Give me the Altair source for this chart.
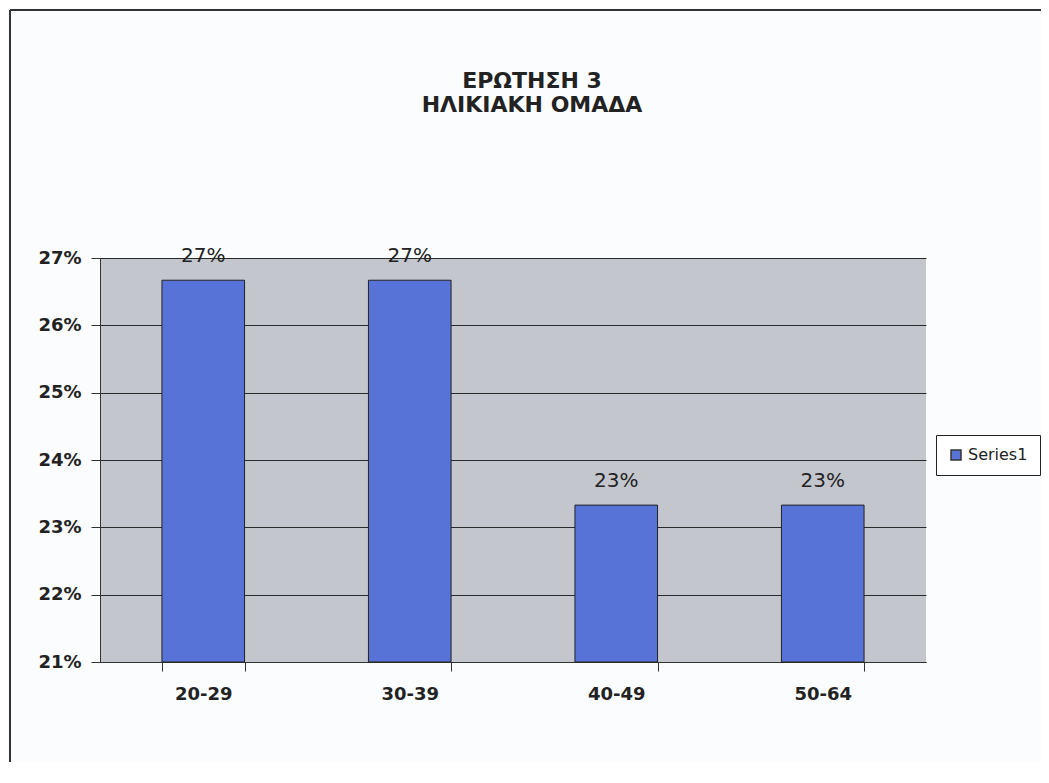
import altair as alt
import pandas as pd

categories = ["20-29", "30-39", "40-49", "50-64"]
values = [0.2667, 0.2667, 0.2333, 0.2333]
series = ["Series1"] * 4
y_ticks = [0.21, 0.22, 0.23, 0.24, 0.25, 0.26, 0.27]
y_min = 0.21

df = pd.DataFrame({"age": categories, "value": values, "series": series})

FONT = "DejaVu Sans"
BAR = "#5773D8"
PLOT_BG = "#C4C6CE"

x_enc = alt.X(
    "age:N",
    sort=categories,
    scale=alt.Scale(paddingInner=0.6, paddingOuter=0.3),
    axis=alt.Axis(
        title=None, labelAngle=0, labelFont=FONT, labelFontSize=18, labelFontWeight="bold",
        labelColor="#222222", labelPadding=14, tickBand="extent", tickSize=9,
        tickColor="#333333", domainColor="#333333", grid=False,
    ),
)
y_enc = alt.Y(
    "value:Q",
    scale=alt.Scale(domain=[0.21, 0.27], zero=False, nice=False),
    axis=alt.Axis(
        title=None, format=".0%", values=y_ticks, labelFont=FONT, labelFontSize=18,
        labelFontWeight="bold", labelColor="#222222", labelPadding=10, tickSize=9,
        tickColor="#333333", domainColor="#333333", grid=True, gridColor="#2a2a2a",
        gridWidth=1, gridOpacity=1,
    ),
)

bars = alt.Chart(df).mark_bar(stroke="#222222", strokeWidth=1).encode(
    x=x_enc,
    y=y_enc,
    y2=alt.datum(y_min),
    color=alt.Color(
        "series:N",
        scale=alt.Scale(range=[BAR]),
        legend=alt.Legend(
            title=None, orient="none", legendX=836, legendY=177, strokeColor="#222222",
            fillColor="#ffffff", padding=12, symbolType="square", symbolSize=100,
            symbolStrokeColor="#333333", symbolFillColor="#4a5a8a", labelFont=FONT,
            labelFontSize=16, labelColor="#222222", symbolOpacity=1, labelOffset=4,
        ),
    ),
)

labels = alt.Chart(df).mark_text(
    font=FONT, fontSize=20, color="#222222", baseline="middle", dy=-24
).encode(
    x=alt.X("age:N", sort=categories),
    y=alt.Y("value:Q"),
    text=alt.Text("value:Q", format=".0%"),
)

frame_left = alt.Chart(df).mark_rule(color="#333333", strokeWidth=2).encode(
    x=alt.value(-90), y=alt.value(-248), y2=alt.value(520)
)
frame_top = alt.Chart(df).mark_rule(color="#333333", strokeWidth=2).encode(
    x=alt.value(-90), x2=alt.value(949), y=alt.value(-248)
)

chart = alt.layer(bars, labels, frame_left, frame_top).properties(
    width=826,
    height=404,
    autosize=alt.AutoSizeParams(type="none"),
    padding={"left": 92, "top": 250, "right": 115, "bottom": 100},
    background="#FBFCFE",
    title=alt.TitleParams(
        text=["ΕΡΩΤΗΣΗ 3", "ΗΛΙΚΙΑΚΗ ΟΜΑΔΑ"],
        font=FONT, fontSize=22, fontWeight="bold", color="#222222",
        lineHeight=24, anchor="middle", offset=-108, dx=19,
    ),
).configure_view(fill=PLOT_BG, stroke=None)

chart.save("out.html", embed_options={"renderer": "svg", "actions": False})
